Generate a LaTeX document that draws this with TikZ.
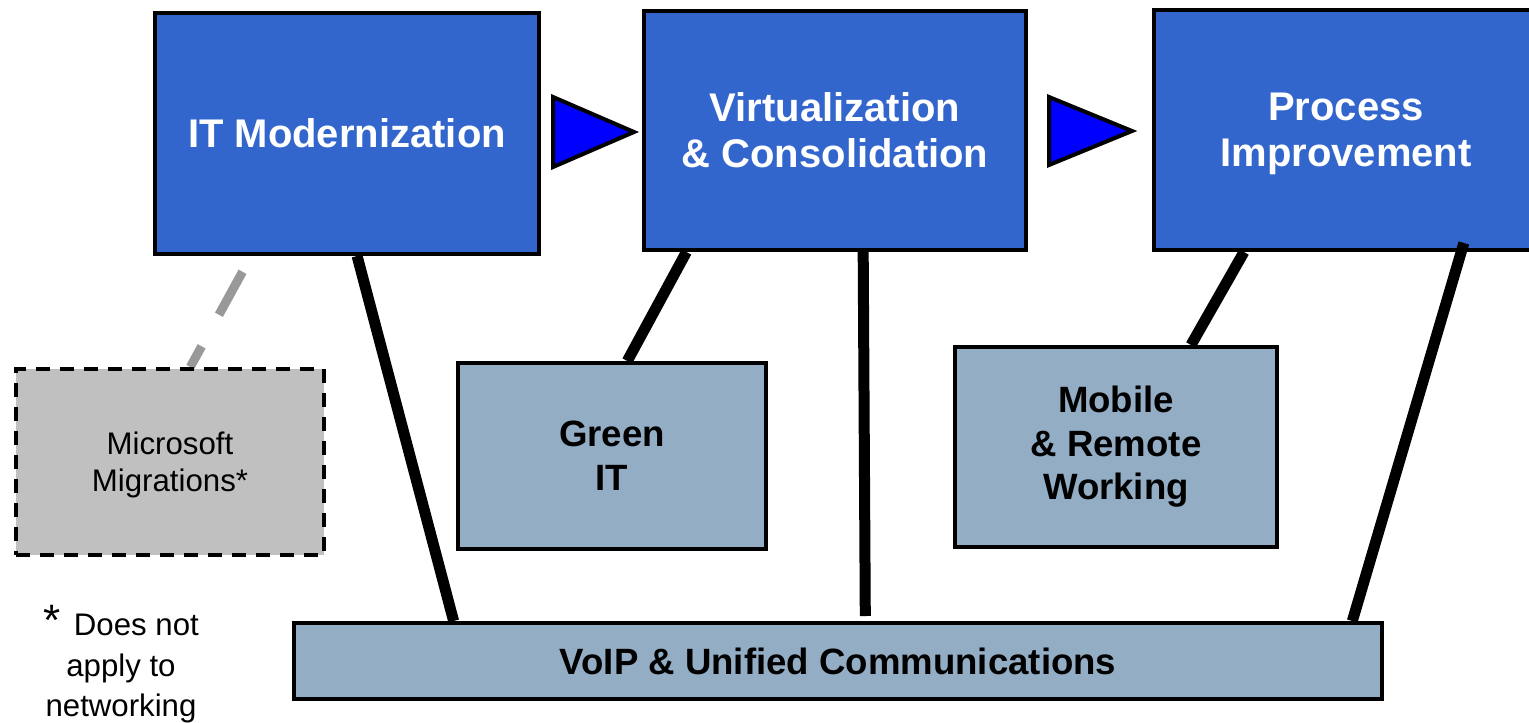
\documentclass[tikz,border=0pt]{standalone}
\usepackage{fontspec}
\setmainfont{Liberation Sans}
\usetikzlibrary{calc,backgrounds}
\definecolor{mainblue}{HTML}{3366CC}
\definecolor{triblue}{HTML}{0000FF}
\definecolor{subblue}{HTML}{93ADC5}
\definecolor{msgray}{HTML}{C0C0C0}
\definecolor{dashgray}{HTML}{999999}
\begin{document}
\begin{tikzpicture}[x=0.5pt,y=-0.5pt,
  mainbox/.style={draw=black, line width=2pt, fill=mainblue, text=white,
    font=\bfseries\fontsize{20}{23}\selectfont, align=center, inner sep=0pt},
  subbox/.style={draw=black, line width=2pt, fill=subblue,
    font=\bfseries\fontsize{18.3}{21.8}\selectfont, align=center, inner sep=0pt},
  msbox/.style={draw=black, line width=2pt, dash pattern=on 7pt off 5pt, fill=msgray,
    font=\fontsize{15.6}{18.5}\selectfont, align=center, inner sep=0pt},
  tri/.style={draw=black, line width=2pt, fill=triblue, line join=miter},
  conn/.style={line width=5.5pt, black},
  graydash/.style={line width=4.5pt, dashgray, dash pattern=on 24.5pt off 18pt, dash phase=33.5pt},
  note/.style={font=\fontsize{15.6}{20.3}\selectfont, align=center, inner sep=0pt}]
\useasboundingbox (0,0) rectangle (1529,722);
\clip (0,0) rectangle (1529,722);

% main boxes
\node[mainbox, minimum width=192pt, minimum height=120.5pt] (itm) at (347,133.5) {IT Modernization};
\node[mainbox, minimum width=191pt, minimum height=119.5pt] (virt) at (835,130.5) {Virtualization\\\& Consolidation};
\node[mainbox, text depth=0pt, minimum width=192pt, minimum height=120pt] (proc) at (1346,130) {Process\\Improvement};

% sub boxes
\node[subbox, minimum width=154pt, minimum height=93pt] (green) at (612,456) {Green\\IT};
\node[subbox, minimum width=161pt, minimum height=100pt] (mobile) at (1116,447) {Mobile\\\& Remote\\Working};
\node[subbox, minimum width=544pt, minimum height=38pt] (voip) at (838,661) {VoIP \& Unified Communications};
\node[msbox, text depth=0pt, minimum width=154pt, minimum height=93pt] (ms) at (170,462) {Microsoft\\Migrations*};

% footnote
\node[note, anchor=north] (fn) at (121,605) {{\fontsize{22}{22}\selectfont *}\hspace{2.5pt} Does not\\apply to\\networking};

% flow triangles
\draw[tri] (553,97) -- (634,132) -- (553,167) -- cycle;
\draw[tri] (1049,97) -- (1132,131) -- (1049,165) -- cycle;

% connectors behind boxes
\begin{scope}[on background layer]
  \draw[conn] ($(itm.south west)!0.526!(itm.south east)$) -- ($(voip.north west)!0.148!(voip.north east)$);
  \draw[conn] ($(virt.south west)!0.115!(virt.south east)$) -- ($(green.north west)!0.549!(green.north east)$);
  \coordinate (vstop) at ($(voip.north west)!0.525!(voip.north east)+(0,-5)$);
  \draw[conn] ($(virt.south west)!0.573!(virt.south east)$) -- (vstop);
  \draw[conn] ($(proc.south west)!0.237!(proc.south east)$) -- ($(mobile.north west)!0.730!(mobile.north east)$);
  \draw[graydash] ($(itm.south west)!0.253!(itm.south east)$) -- ($(ms.north west)!0.565!(ms.north east)$);
\end{scope}
% connector that starts inside the process box
\draw[conn] ($(proc.south west)!0.797!(proc.south east)+(2.6,-9)$) -- ($(voip.north west)!0.971!(voip.north east)$);
\end{tikzpicture}
\end{document}
